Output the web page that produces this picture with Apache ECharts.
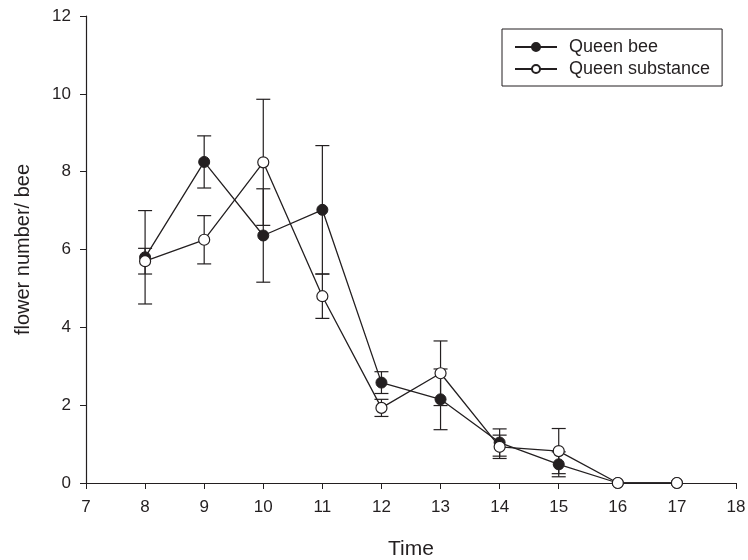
<!DOCTYPE html>
<html>
<head>
<meta charset="utf-8">
<script src="https://cdn.jsdelivr.net/npm/echarts@6/dist/echarts.min.js"></script>
<style>
  html, body {margin: 0; padding: 0; background: #fff;}
  #main {width: 748px; height: 560px;}
</style>
</head>
<body>
<div id="main"></div>
<script>
var times = [8, 9, 10, 11, 12, 13, 14, 15, 16, 17];
var beeMean = [5.8, 8.25, 6.36, 7.02, 2.58, 2.15, 1.04, 0.48, 0, 0];
var beeErr = [1.2, 0.67, 1.2, 1.65, 0.28, 0.78, 0.35, 0.32, 0, 0];
var subMean = [5.7, 6.25, 8.24, 4.8, 1.93, 2.82, 0.93, 0.82, 0, 0];
var subErr = [0.33, 0.62, 1.62, 0.57, 0.22, 0.83, 0.3, 0.58, 0, 0];
var yTicks = [0, 2, 4, 6, 8, 10, 12];

var ink = '#231f20';
var font = 'Liberation Sans, Arial, sans-serif';

function pairs(means) {
  return times.map(function (t, i) { return [t, means[i]]; });
}
function errData(means, errs) {
  return times.map(function (t, i) { return [t, means[i] - errs[i], means[i] + errs[i]]; });
}
function errRender(params, api) {
  var x = api.value(0);
  var lo = api.coord([x, api.value(1)]);
  var hi = api.coord([x, api.value(2)]);
  if (Math.abs(hi[1] - lo[1]) < 0.5) return;
  var w = 7;
  var st = {stroke: ink, lineWidth: 1.2};
  return {
    type: 'group',
    children: [
      {type: 'line', shape: {x1: lo[0], y1: lo[1], x2: hi[0], y2: hi[1]}, style: st},
      {type: 'line', shape: {x1: lo[0] - w, y1: lo[1], x2: lo[0] + w, y2: lo[1]}, style: st},
      {type: 'line', shape: {x1: hi[0] - w, y1: hi[1], x2: hi[0] + w, y2: hi[1]}, style: st}
    ]
  };
}

var chart = echarts.init(document.getElementById('main'));
chart.setOption({
  animation: false,
  backgroundColor: '#fff',
  textStyle: {fontFamily: font},
  grid: {left: 86, top: 16, width: 650, height: 467, containLabel: false, outerBoundsMode: 'none'},
  legend: {
    left: 502, top: 29,
    orient: 'vertical',
    borderColor: ink, borderWidth: 1,
    padding: [9, 12, 8, 12],
    itemGap: 4,
    itemWidth: 42, itemHeight: 10,
    textStyle: {fontSize: 18, color: ink, fontFamily: font, padding: [0, 0, 0, 7]},
    data: ['Queen bee', 'Queen substance']
  },
  xAxis: {
    type: 'value', min: 7, max: 18, interval: 1,
    name: 'Time', nameLocation: 'middle', nameGap: 56,
    nameTextStyle: {fontSize: 21, color: ink},
    axisLine: {lineStyle: {color: ink, width: 1.2}},
    axisTick: {lineStyle: {color: ink}, length: 6},
    axisLabel: {fontSize: 17, color: ink, margin: 16},
    splitLine: {show: false}
  },
  yAxis: {
    type: 'value', min: 0, max: 12, interval: 2,
    name: 'flower number/ bee', nameLocation: 'middle', nameGap: 53,
    nameTextStyle: {fontSize: 20, color: ink},
    axisLine: {show: true, lineStyle: {color: ink, width: 1.2}},
    axisTick: {show: true, lineStyle: {color: ink}, length: 6},
    axisLabel: {fontSize: 17, color: ink, margin: 15,
      formatter: function (v) { return yTicks.indexOf(v) >= 0 ? v : ''; }},
    splitLine: {show: false}
  },
  series: [
    {
      type: 'custom', renderItem: errRender, data: errData(beeMean, beeErr),
      encode: {x: 0, y: [1, 2]}, z: 1, silent: true
    },
    {
      type: 'custom', renderItem: errRender, data: errData(subMean, subErr),
      encode: {x: 0, y: [1, 2]}, z: 1, silent: true
    },
    {
      name: 'Queen bee', type: 'line', data: pairs(beeMean), z: 2,
      symbol: 'circle', symbolSize: 11, showAllSymbol: true,
      lineStyle: {color: ink, width: 1.3},
      itemStyle: {color: ink, borderColor: ink, borderWidth: 1}
    },
    {
      name: 'Queen substance', type: 'line', data: pairs(subMean), z: 3,
      symbol: 'circle', symbolSize: 11, showAllSymbol: true,
      lineStyle: {color: ink, width: 1.3},
      itemStyle: {color: '#fff', borderColor: ink, borderWidth: 1.2}
    }
  ]
});
</script>
</body>
</html>
